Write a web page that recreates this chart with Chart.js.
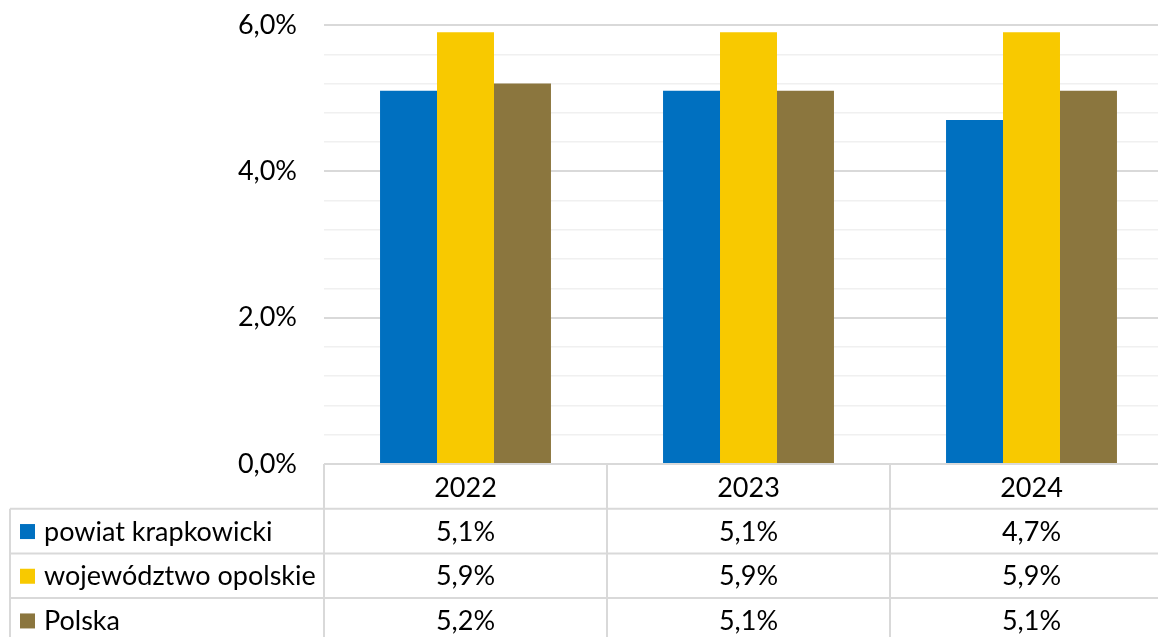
<!DOCTYPE html>
<html>
<head>
<meta charset="utf-8">
<script src="https://cdn.jsdelivr.net/npm/chart.js@4.4.1/dist/chart.umd.min.js"></script>
<style>
    html, body { margin: 0; padding: 0; background: #fff; overflow: hidden; }
    #wrap { width: 1173px; height: 637px; }
</style>
</head>
<body>
<div id="wrap"><canvas id="chart" width="1173" height="637"></canvas></div>
<script>
const years = ['2022', '2023', '2024'];
const seriesNames = ['powiat krapkowicki', 'województwo opolskie', 'Polska'];
const powiatKrapkowicki = [5.1, 5.1, 4.7];
const wojewodztwoOpolskie = [5.9, 5.9, 5.9];
const polska = [5.2, 5.1, 5.1];
const majorTicks = [0, 2, 4, 6];
const seriesColors = ['#0070C0', '#F8C900', '#8B763E'];

const FONT = 'Lato, "Open Sans", sans-serif';
const FONT_SIZE = 27;

function fmt(v) {
    return v.toFixed(1).replace('.', ',') + '%';
}

function isMajor(v) {
    return majorTicks.some(t => Math.abs(t - v) < 1e-6);
}

// data table drawn under the plot, aligned with the category scale
const tablePlugin = {
    id: 'dataTable',
    afterDraw(chart) {
        const ctx = chart.ctx;
        const x = chart.scales.x;
        const area = chart.chartArea;
        const colW = x.getPixelForValue(1) - x.getPixelForValue(0);
        const top = area.bottom;
        const rowH = 44.7;
        const labelLeft = 10;
        const bottom = chart.height + 10;
        const rows = [powiatKrapkowicki, wojewodztwoOpolskie, polska];

        ctx.save();
        ctx.strokeStyle = '#d9d9d9';
        ctx.lineWidth = 2;
        ctx.beginPath();
        // header top line
        ctx.moveTo(area.left, top);
        ctx.lineTo(area.right, top);
        // row lines
        for (let r = 1; r <= rows.length; r++) {
            const y = top + r * rowH;
            ctx.moveTo(labelLeft, y);
            ctx.lineTo(area.right, y);
        }
        // column lines
        ctx.moveTo(labelLeft, top + rowH);
        ctx.lineTo(labelLeft, bottom);
        for (let i = 0; i <= years.length; i++) {
            const xx = x.getPixelForValue(0) - colW / 2 + i * colW;
            ctx.moveTo(xx, top);
            ctx.lineTo(xx, bottom);
        }
        ctx.stroke();

        ctx.fillStyle = '#000';
        ctx.font = FONT_SIZE + 'px ' + FONT;
        ctx.textBaseline = 'middle';
        ctx.textAlign = 'center';
        years.forEach((yr, i) => {
            ctx.fillText(yr, x.getPixelForValue(i), top + rowH / 2 + 2);
        });
        rows.forEach((vals, r) => {
            const cy = top + (r + 1) * rowH + rowH / 2 + 1;
            vals.forEach((v, i) => {
                ctx.textAlign = 'center';
                ctx.fillStyle = '#000';
                ctx.fillText(fmt(v), x.getPixelForValue(i), cy);
            });
            // legend key
            ctx.fillStyle = seriesColors[r];
            ctx.fillRect(20, cy - 8, 15, 15);
            ctx.fillStyle = '#000';
            ctx.textAlign = 'left';
            ctx.fillText(seriesNames[r], 44, cy);
        });
        ctx.restore();
    }
};

const ctx = document.getElementById('chart').getContext('2d');
new Chart(ctx, {
    type: 'bar',
    data: {
        labels: years,
        datasets: [
            { label: seriesNames[0], data: powiatKrapkowicki, backgroundColor: seriesColors[0] },
            { label: seriesNames[1], data: wojewodztwoOpolskie, backgroundColor: seriesColors[1] },
            { label: seriesNames[2], data: polska, backgroundColor: seriesColors[2] }
        ]
    },
    options: {
        responsive: false,
        animation: false,
        devicePixelRatio: 1,
        layout: { padding: { top: 25, bottom: 173, right: 0, left: 0 } },
        datasets: {
            bar: { categoryPercentage: 0.604, barPercentage: 1.0, borderWidth: 0 }
        },
        scales: {
            x: {
                display: false
            },
            y: {
                min: 0,
                max: 6,
                border: { display: false },
                afterFit(scale) {
                    scale.width = 324;
                    scale.paddingTop = 0;
                    scale.paddingBottom = 0;
                },
                ticks: {
                    stepSize: 0.4,
                    padding: 27,
                    color: '#000',
                    font: { family: FONT, size: FONT_SIZE },
                    autoSkip: false,
                    callback: v => isMajor(v) ? fmt(v) : ''
                },
                grid: {
                    drawTicks: false,
                    lineWidth: ctx => isMajor(ctx.tick.value) ? 2 : 1.5,
                    color: ctx => isMajor(ctx.tick.value) ? '#d9d9d9' : '#f0f0f0'
                }
            }
        },
        plugins: {
            legend: { display: false },
            tooltip: { enabled: false }
        }
    },
    plugins: [tablePlugin]
});
</script>
</body>
</html>
